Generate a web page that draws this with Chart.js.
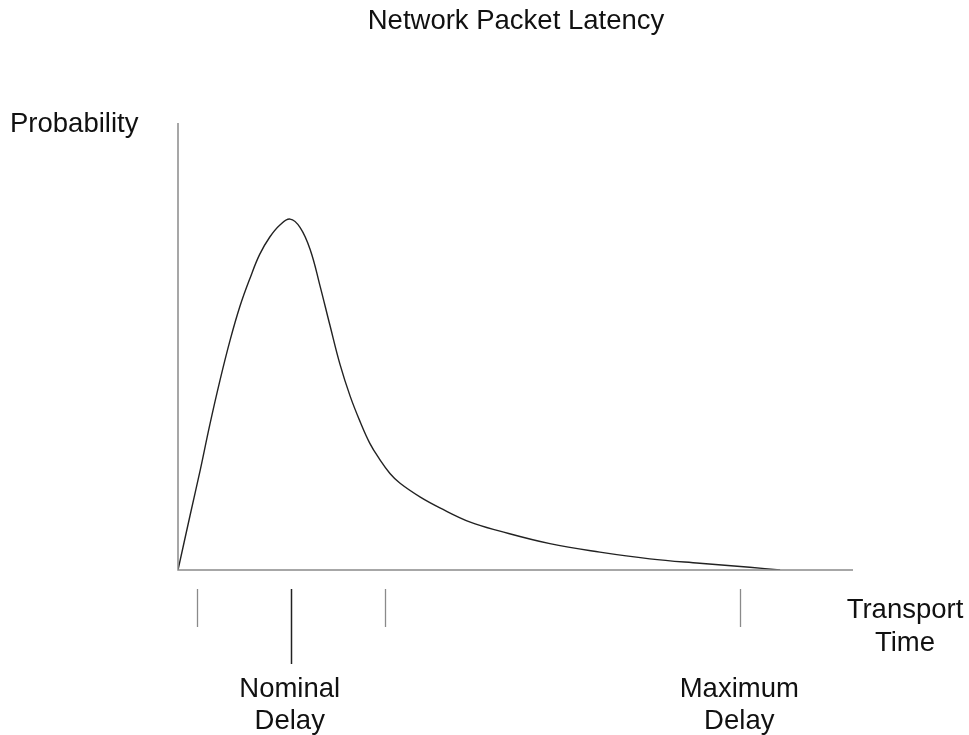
<!DOCTYPE html>
<html>
<head>
<meta charset="utf-8">
<title>Network Packet Latency</title>
<script src="https://cdn.jsdelivr.net/npm/chart.js"></script>
<style>
  html, body { margin: 0; padding: 0; background: #fff; }
  #wrap { width: 969px; height: 735px; }
</style>
</head>
<body>
<div id="wrap"><canvas id="chartCanvas" width="969" height="735"></canvas></div>
<script>
// transport time (arbitrary units) and probability
const timeValues = [0, 1.8, 3.3, 4.7, 6.2, 7.7, 9.2, 10.7, 12.1, 13.6, 15.1, 16.6, 18.1, 19.6, 21.0, 22.5,
  24.0, 25.5, 27.0, 28.4, 29.9, 31.4, 32.9, 35.9, 38.8, 43.3, 47.7, 55.1, 62.5, 69.9, 77.3, 84.7, 89.2];
const probValues = [0, 12.3, 22.4, 32.4, 42.3, 51.3, 59.1, 65.4, 70.6, 74.5, 77.2, 78.5, 76.6, 71.6, 63.8, 54.8,
  46.0, 38.9, 33.1, 28.4, 24.7, 21.6, 19.4, 16.3, 13.9, 10.7, 8.7, 5.9, 4.0, 2.5, 1.5, 0.6, 0];

// marks under the time axis
const markTimes = [2.8, 16.7, 30.6, 83.3];
const markLong = [false, true, false, false];
const markLabels = [null, ['Nominal', 'Delay'], null, ['Maximum', 'Delay']];

const titleText = 'Network Packet Latency';
const yLabel = 'Probability';
const xLabel = ['Transport', 'Time'];

const font = '27.5px "Liberation Sans", Arial, sans-serif';

const decorations = {
  id: 'decorations',
  afterDatasetsDraw(chart) {
    const ctx = chart.ctx;
    const area = chart.chartArea;
    const xs = chart.scales.x;
    ctx.save();

    // axes
    ctx.strokeStyle = '#8a8a8a';
    ctx.lineWidth = 1.5;
    ctx.beginPath();
    ctx.moveTo(area.left, area.top);
    ctx.lineTo(area.left, area.bottom);
    ctx.lineTo(area.right, area.bottom);
    ctx.stroke();

    // marks under the axis
    markTimes.forEach((t, i) => {
      const px = Math.round(xs.getPixelForValue(t)) + 0.5;
      ctx.strokeStyle = markLong[i] ? '#222' : '#8a8a8a';
      ctx.lineWidth = markLong[i] ? 1.5 : 1.3;
      ctx.beginPath();
      ctx.moveTo(px, area.bottom + 19);
      ctx.lineTo(px, area.bottom + (markLong[i] ? 94 : 57));
      ctx.stroke();
    });

    ctx.fillStyle = '#111';
    ctx.font = font;
    ctx.textBaseline = 'alphabetic';

    ctx.textAlign = 'center';
    ctx.fillText(titleText, 516, 29);

    ctx.textAlign = 'left';
    ctx.fillText(yLabel, 10, 132);

    ctx.textAlign = 'center';
    ctx.fillText(xLabel[0], 905, 618);
    ctx.fillText(xLabel[1], 905, 651);

    markTimes.forEach((t, i) => {
      if (!markLabels[i]) return;
      const px = xs.getPixelForValue(t);
      ctx.fillText(markLabels[i][0], px - 1, 697);
      ctx.fillText(markLabels[i][1], px - 1, 729);
    });

    ctx.restore();
  }
};

new Chart(document.getElementById('chartCanvas').getContext('2d'), {
  type: 'line',
  data: {
    datasets: [{
      data: timeValues.map((t, i) => ({ x: t, y: probValues[i] })),
      borderColor: '#222',
      borderWidth: 1.4,
      pointRadius: 0,
      fill: false,
      tension: 0.4
    }]
  },
  options: {
    responsive: false,
    animation: false,
    layout: { padding: { left: 178, right: 116, top: 123, bottom: 165 } },
    plugins: { legend: { display: false }, tooltip: { enabled: false } },
    scales: {
      x: { type: 'linear', display: false, min: 0, max: 100 },
      y: { type: 'linear', display: false, min: 0, max: 100 }
    }
  },
  plugins: [decorations]
});
</script>
</body>
</html>
